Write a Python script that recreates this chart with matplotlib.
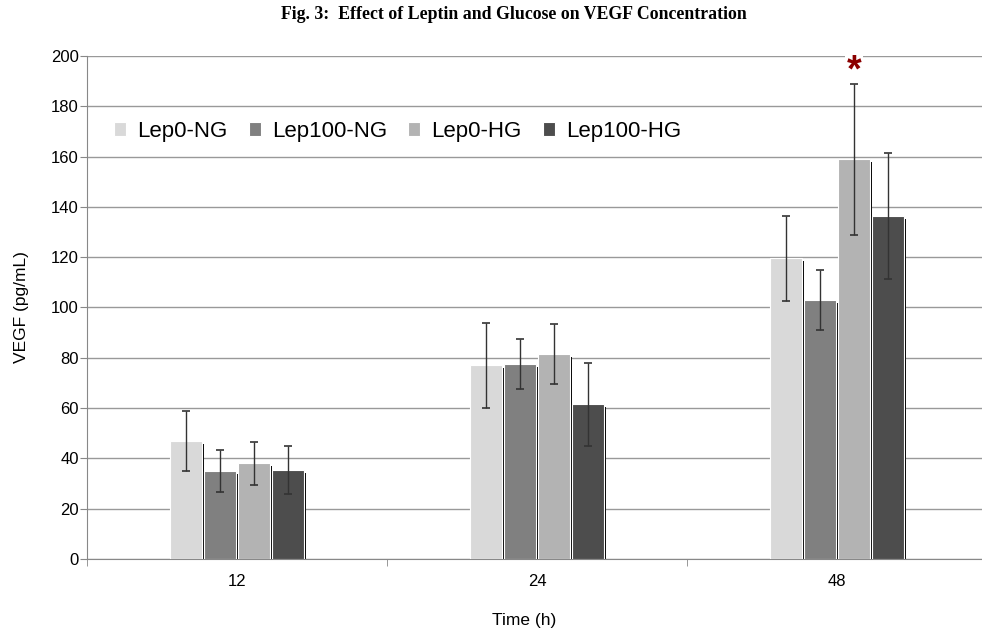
import numpy as np
import matplotlib.pyplot as plt

# data
times = ["12", "24", "48"]
series = ["Lep0-NG", "Lep100-NG", "Lep0-HG", "Lep100-HG"]
lep0_ng = [47, 77, 119.5]
lep100_ng = [35, 77.5, 103]
lep0_hg = [38, 81.5, 159]
lep100_hg = [35.5, 61.5, 136.5]
err_lep0_ng = [12, 17, 17]
err_lep100_ng = [8.5, 10, 12]
err_lep0_hg = [8.5, 12, 30]
err_lep100_hg = [9.5, 16.5, 25]
y_ticks = list(range(0, 201, 20))

colors = ["#d9d9d9", "#808080", "#b3b3b3", "#4d4d4d"]
values = [lep0_ng, lep100_ng, lep0_hg, lep100_hg]
errors = [err_lep0_ng, err_lep100_ng, err_lep0_hg, err_lep100_hg]

plt.rcParams["font.family"] = ["Liberation Sans", "DejaVu Sans"]

fig = plt.figure(figsize=(9.82, 6.42), dpi=100)
ax = fig.add_axes([0.0886, 0.1293, 0.9165, 0.7835])

x = np.arange(len(times))
w = 0.105
pitch = 0.1133
offsets = (np.arange(4) - 1.5) * pitch

for vals, errs, col, off, name in zip(values, errors, colors, offsets, series):
    # thin dark shadow on the right side of every bar
    ax.bar(x + off + w / 2 + 0.0035, np.array(vals) - 1.2, width=0.005,
           color="black", zorder=2)
    ax.bar(x + off, vals, width=w, color=col, edgecolor="white",
           linewidth=0.8, label=name, zorder=3)
    ax.errorbar(x + off, vals, yerr=errs, fmt="none", ecolor="#333333",
                elinewidth=1.0, capsize=3.2, capthick=1.2, zorder=4)

# significance marker at 48 h, Lep0-HG
ax.text(x[2] + offsets[2], 190, "*", color="#8b0000", fontsize=27,
        fontweight="bold", ha="center", va="baseline", zorder=1.5,
        bbox=dict(facecolor="white", edgecolor="none", pad=1))

ax.set_xlim(-0.5, 2.5)
ax.set_ylim(0, 200)
ax.set_yticks(y_ticks)
ax.yaxis.grid(True, color="#999999", linewidth=1.0)
ax.set_axisbelow(True)

ax.set_xticks(x)
ax.set_xticklabels(times)
ax.set_xticks(np.arange(-0.5, 3, 1), minor=True)
ax.tick_params(axis="x", which="major", length=0, pad=11, labelsize=12)
ax.tick_params(axis="x", which="minor", length=5, color="#888888")
ax.tick_params(axis="y", length=5, pad=1, color="#888888", labelsize=12)

for s in ["top", "right"]:
    ax.spines[s].set_visible(False)
for s in ["left", "bottom"]:
    ax.spines[s].set_color("#888888")

ax.set_xlabel("Time (h)", fontsize=12.5)
ax.set_ylabel("VEGF (pg/mL)", fontsize=12.5)
ax.xaxis.set_label_coords(0.486, -0.108)
ax.yaxis.set_label_coords(-0.0644, 0.5)

ax.legend(loc="center left", bbox_to_anchor=(0.02, 0.85), ncol=4,
          frameon=False, fontsize=16, handlelength=0.55, handleheight=0.55,
          handletextpad=0.5, columnspacing=0.95, borderaxespad=0)

fig.text(0.523, 0.978, "Fig. 3:  Effect of Leptin and Glucose on VEGF Concentration",
         ha="center", va="center", fontsize=12.8, fontweight="bold",
         family="Liberation Serif")

fig.savefig("out.png", dpi=100)
